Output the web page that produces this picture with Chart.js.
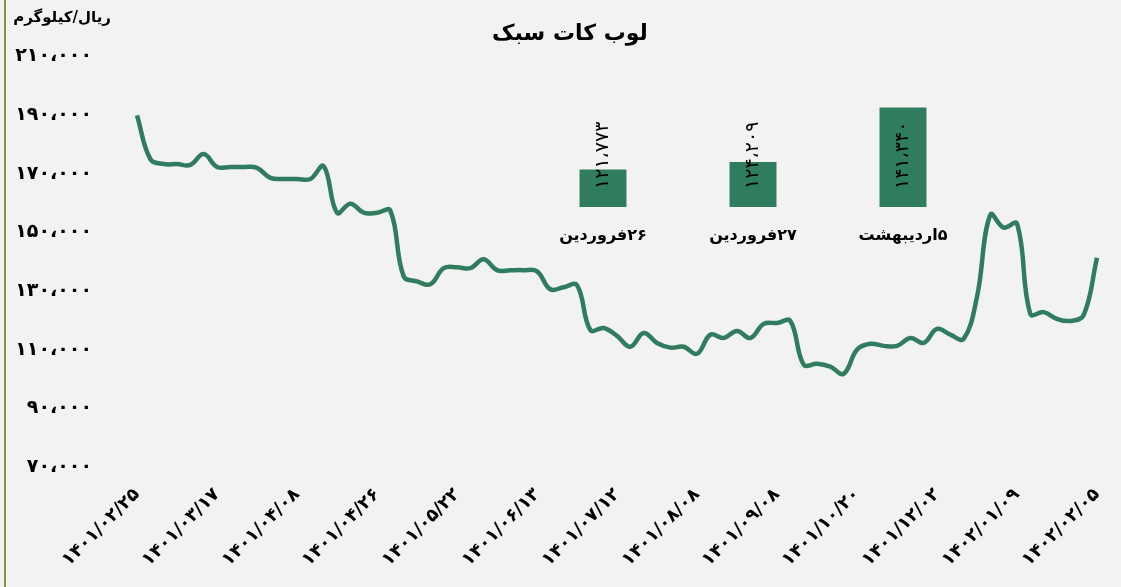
<!DOCTYPE html>
<html lang="fa">
<head>
<meta charset="UTF-8">
<title>لوب کات سبک</title>
<script src="https://cdn.jsdelivr.net/npm/chart.js"></script>
<style>
  body {margin:0; background:#f2f2f2; font-family:"DejaVu Sans", sans-serif;}
  #wrap {position:relative; width:1121px; height:587px; overflow:hidden; background:#f2f2f2;}
  #borde {position:absolute; left:4px; top:0; width:2px; height:587px; background:#7b9a3d;}
  #main {position:absolute; left:0; top:0; width:1121px; height:587px;}
  #inset {position:absolute; left:528px; top:80px; width:450px; height:172px;}
  #titulo {position:absolute; left:0; top:19px; width:1140px; text-align:center; font-weight:bold; font-size:22px; line-height:28px; color:#000;}
  #unidad {position:absolute; left:0; top:8px; width:111px; text-align:right; font-weight:bold; font-size:15px; color:#000;}
</style>
</head>
<body>
<div id="wrap">
  <div id="borde"></div>
  <div id="main"><canvas id="grafico"></canvas></div>
  <div id="inset" dir="rtl"><canvas id="barras"></canvas></div>
  <div id="titulo" dir="rtl">لوب کات سبک</div>
  <div id="unidad" dir="rtl">ریال/کیلوگرم</div>
</div>

<script>
// fechas que se ven en el eje x (una cada 6 puntos)
const fechas = ['۱۴۰۱/۰۲/۲۵', '۱۴۰۱/۰۳/۱۷', '۱۴۰۱/۰۴/۰۸', '۱۴۰۱/۰۴/۲۶', '۱۴۰۱/۰۵/۲۲',
  '۱۴۰۱/۰۶/۱۳', '۱۴۰۱/۰۷/۱۲', '۱۴۰۱/۰۸/۰۸', '۱۴۰۱/۰۹/۰۸', '۱۴۰۱/۱۰/۲۰',
  '۱۴۰۱/۱۲/۰۲', '۱۴۰۲/۰۱/۰۹', '۱۴۰۲/۰۲/۰۵'];
const cadaN = 6;

// precio (ریال/کیلوگرم)
const precios = [
  189900, 175000, 173300, 173300, 173000, 176700, 172300, 172300, 172300, 172000,
  168600, 168200, 168200, 168200, 172600, 156700, 159800, 156700, 156700, 157400,
  135000, 133300, 132300, 137800, 138100, 137800, 140800, 137100, 137100, 137100,
  136700, 130600, 131300, 132000, 116700, 117400, 114700, 111000, 115700, 112300,
  110700, 111000, 108600, 115100, 114000, 116400, 114000, 118800, 119100, 119800,
  104900, 105200, 104200, 101800, 110000, 112000, 111300, 111300, 114000, 112300,
  117100, 115100, 113700, 128000, 156000, 151600, 153000, 122200, 122800, 120500,
  119800, 121773, 141340
];

const Y_MIN = 70000, Y_MAX = 210000, Y_PASO = 20000;

// recuadro de barras
const barFechas = ['۲۶فروردین', '۲۷فروردین', '۵اردیبهشت'];
const barValores = [121773, 124209, 141340];

const VERDE = '#2f7c5f';

function aFarsi(n) {
  const s = Math.round(n).toString().replace(/\B(?=(\d{3})+(?!\d))/g, '،');
  return s.replace(/\d/g, d => '۰۱۲۳۴۵۶۷۸۹'[+d]);
}

Chart.defaults.font.family = '"DejaVu Sans", sans-serif';
Chart.defaults.color = '#000';

new Chart(document.getElementById('grafico'), {
  type: 'line',
  data: {
    labels: precios.map((_, i) => i),
    datasets: [{
      data: precios,
      borderColor: VERDE,
      borderWidth: 4.5,
      pointRadius: 0,
      tension: 0.4,
      fill: false
    }]
  },
  options: {
    responsive: true,
    maintainAspectRatio: false,
    animation: false,
    layout: { padding: { left: 0, right: 24, top: 52, bottom: 0 } },
    plugins: {
      legend: { display: false },
      tooltip: { enabled: false },
      title: { display: false }
    },
    scales: {
      x: {
        grid: { display: false, drawTicks: false },
        border: { display: false },
        ticks: {
          autoSkip: false,
          minRotation: 45,
          maxRotation: 45,
          padding: 17,
          font: { size: 18, weight: 'bold' },
          callback: (v, i) => i % cadaN === 0 ? fechas[i / cadaN] : null
        },
        afterFit: s => { s.height = 120; s.paddingLeft = 0; s.paddingRight = 0; }
      },
      y: {
        min: Y_MIN,
        max: Y_MAX,
        grid: { display: false, drawTicks: false },
        border: { display: false },
        ticks: {
          stepSize: Y_PASO,
          padding: 45,
          font: { size: 19, weight: 'bold' },
          callback: v => aFarsi(v)
        },
        afterFit: s => { s.width = 137; }
      }
    }
  }
});

// valores girados sobre cada barra
const etiquetasBarras = {
  id: 'etiquetasBarras',
  afterDraw(chart) {
    const ctx = chart.ctx;
    const xs = chart.scales.x;
    const base = chart.chartArea.bottom;
    ctx.save();
    ctx.fillStyle = '#000';
    ctx.font = '19px "DejaVu Sans", sans-serif';
    ctx.textAlign = 'center';
    ctx.textBaseline = 'middle';
    barValores.forEach((v, i) => {
      const txt = aFarsi(v);
      const w = ctx.measureText(txt).width;
      ctx.save();
      ctx.translate(xs.getPixelForValue(i), base - 18 - w / 2);
      ctx.rotate(-Math.PI / 2);
      ctx.fillText(txt, 0, 0);
      ctx.restore();
    });
    ctx.restore();
  }
};

new Chart(document.getElementById('barras'), {
  type: 'bar',
  data: {
    labels: barFechas,
    datasets: [{
      data: barValores,
      backgroundColor: VERDE,
      barPercentage: 0.313,
      categoryPercentage: 1
    }]
  },
  options: {
    responsive: true,
    maintainAspectRatio: false,
    animation: false,
    layout: { padding: 0 },
    plugins: { legend: { display: false }, tooltip: { enabled: false } },
    scales: {
      x: {
        grid: { display: false, drawTicks: false },
        border: { display: false },
        ticks: { padding: 19, maxRotation: 0, font: { size: 16, weight: 'bold' } },
        afterFit: s => { s.height = 45; }
      },
      y: { display: false, min: 110000, max: 150000 }
    }
  },
  plugins: [etiquetasBarras]
});
</script>
</body>
</html>
